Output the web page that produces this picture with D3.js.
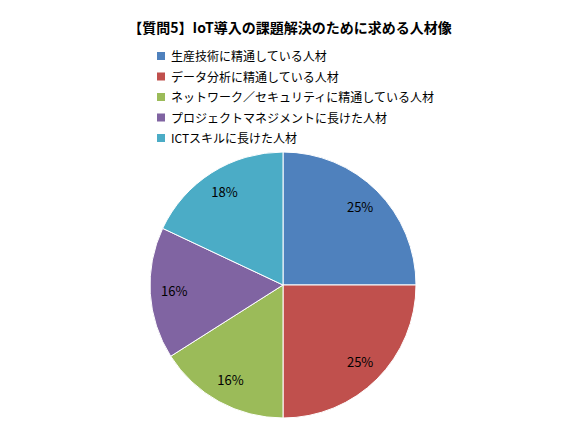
<!DOCTYPE html>
<html><head><meta charset="utf-8">
<script src="https://cdn.jsdelivr.net/npm/d3@7"></script>
<style>body{margin:0;background:#fff;font-family:"Noto Sans CJK JP",sans-serif;}</style>
</head><body>
<svg id="chart" width="580" height="435"></svg>
<script>
const categories = ['生産技術に精通している人材', 'データ分析に精通している人材', 'ネットワーク／セキュリティに精通している人材', 'プロジェクトマネジメントに長けた人材', 'ICTスキルに長けた人材'];
const values = [25, 25, 16, 16, 18];
const colors = ['#4F81BD', '#C0504D', '#9BBB59', '#8064A2', '#4BACC6'];

const svg = d3.select('#chart');

svg.append('text')
    .attr('x', 290).attr('y', 33)
    .attr('text-anchor', 'middle')
    .attr('font-size', 14).attr('font-weight', 'bold')
    .text('【質問5】IoT導入の課題解決のために求める人材像');

const legend = svg.append('g').attr('transform', 'translate(157,50)');
legend.selectAll('g')
  .data(categories)
  .join('g')
    .attr('transform', (d, i) => `translate(0,${i * 20.5})`)
    .call(g => g.append('rect').attr('width', 8).attr('height', 8).attr('y', 2).attr('fill', (d, i) => colors[i]))
    .call(g => g.append('text').attr('x', 14).attr('y', 11).attr('font-size', 12).text(d => d));

const radius = 133;
const pie = d3.pie().sort(null).value(d => d);
const arc = d3.arc().innerRadius(0).outerRadius(radius);
const labelArc = d3.arc().innerRadius(radius * 0.82).outerRadius(radius * 0.82);

const g = svg.append('g').attr('transform', 'translate(283,285)');
const arcs = pie(values);
g.selectAll('path')
  .data(arcs)
  .join('path')
    .attr('d', arc)
    .attr('fill', (d, i) => colors[i])
    .attr('stroke', '#fff').attr('stroke-width', 1);

g.selectAll('text')
  .data(arcs)
  .join('text')
    .attr('transform', d => `translate(${labelArc.centroid(d)})`)
    .attr('text-anchor', 'middle').attr('dy', '0.35em')
    .attr('font-size', 13)
    .text(d => d.data + '%');
</script>
</body></html>
